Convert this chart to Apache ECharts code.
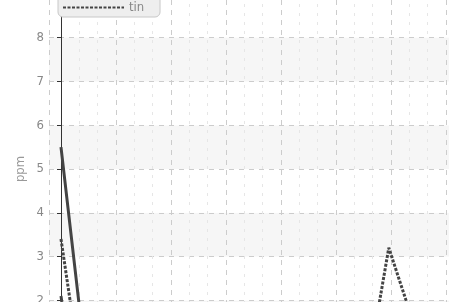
<!DOCTYPE html>
<html>
<head>
<meta charset="utf-8">
<script src="https://cdn.jsdelivr.net/npm/echarts@6/dist/echarts.min.js"></script>
<style>
  html, body { margin: 0; padding: 0; background: #fff; }
  #chart { width: 449px; height: 302px; }
</style>
</head>
<body>
<div id="chart"></div>
<script>
// values (x in grid steps, y in ppm)
const zincX = [0, 0.33, 0.67, 1, 2, 3, 4, 5, 6, 7]
const zincY = [5.5, 1.9, 0.8, 0.5, 0.4, 0.4, 0.3, 0.4, 0.5, 0.4]
const leadX = [0, 0.2, 1, 2, 3, 4, 5, 6, 7]
const leadY = [2.1, 0.3, 0.2, 0.2, 0.2, 0.2, 0.2, 0.3, 0.2]
const tinX = [0, 0.33, 1, 2, 3, 4, 5, 5.63, 5.96, 6.3, 6.67, 7]
const tinY = [3.4, 0.6, 0.4, 0.4, 0.3, 0.4, 0.4, 0.8, 3.2, 1.9, 0.6, 0.4]
const yTicks = [0, 10, 1]

const pairs = (xs, ys) => xs.map((x, i) => [x, ys[i]])
const fontFam = "'Liberation Sans Narrow', 'DejaVu Sans Condensed', 'Liberation Sans', sans-serif"

const chart = echarts.init(document.getElementById('chart'))
chart.setOption({
  animation: false,
  legend: {
    orient: 'vertical',
    left: 58,
    top: -40,
    padding: [5, 6, 3, 4],
    itemGap: 5,
    itemWidth: 61,
    itemHeight: 14,
    backgroundColor: '#eeeeee',
    borderColor: '#c8c8c8',
    borderWidth: 1,
    borderRadius: 5,
    itemStyle: { opacity: 0 },
    textStyle: { color: '#888', fontSize: 13, fontFamily: fontFam },
    data: ['zinc', 'lead', 'tin']
  },
  grid: {
    left: 49,
    top: -50,
    width: 440,
    bottom: -86,
    outerBoundsMode: 'none',
    containLabel: false
  },
  xAxis: {
    type: 'value',
    min: -0.218,
    max: 7.782,
    splitNumber: 8,
    axisLine: { show: false },
    axisTick: { show: false },
    axisLabel: { show: false },
    splitLine: {
      show: true,
      lineStyle: { color: '#cccccc', type: [5, 5], width: 1 }
    },
    minorTick: { show: false, splitNumber: 3 },
    minorSplitLine: {
      show: true,
      lineStyle: { color: '#e6e6e6', type: [3, 6], width: 1 }
    }
  },
  yAxis: {
    type: 'value',
    min: yTicks[0],
    max: yTicks[1],
    interval: yTicks[2],
    name: 'ppm',
    nameLocation: 'middle',
    nameGap: 22,
    nameMoveOverlap: false,
    nameTextStyle: { color: '#999', fontSize: 13, fontFamily: fontFam },
    axisLine: { show: true, lineStyle: { color: '#333', width: 1 } },
    axisTick: { show: true, length: 4, lineStyle: { color: '#333' } },
    axisLabel: { color: '#888', fontSize: 13, margin: 5, fontFamily: fontFam },
    splitLine: {
      show: true,
      lineStyle: { color: '#cccccc', type: [5, 5], width: 1 }
    },
    splitArea: {
      show: true,
      areaStyle: { color: ['#ffffff', '#f6f6f6'] }
    }
  },
  series: [
    {
      name: 'zinc',
      type: 'line',
      data: pairs(zincX, zincY),
      symbol: 'none',
      color: '#444',
      lineStyle: { width: 3, color: '#444' }
    },
    {
      name: 'lead',
      type: 'line',
      data: pairs(leadX, leadY),
      symbol: 'none',
      color: '#444',
      lineStyle: { width: 3, color: '#444', type: [6, 2] }
    },
    {
      name: 'tin',
      type: 'line',
      data: pairs(tinX, tinY),
      symbol: 'none',
      color: '#444',
      lineStyle: { width: 3, color: '#444', type: [3, 1.5] }
    }
  ]
})
</script>
</body>
</html>
